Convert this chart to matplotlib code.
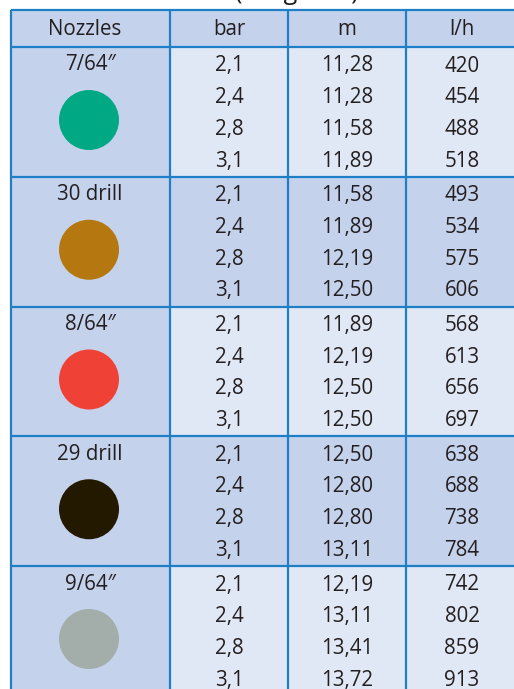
import matplotlib.pyplot as plt
from matplotlib.patches import Rectangle, Circle

plt.rcParams['font.family'] = ['Open Sans', 'DejaVu Sans']

# table data
headers = ['Nozzles', 'bar', 'm', 'l/h']
nozzles = ['7/64″', '30 drill', '8/64″', '29 drill', '9/64″']
nozzle_colors = ['#00a884', '#b5770f', '#ef4136', '#231800', '#a3aeaa']
pressure = [2.1, 2.4, 2.8, 3.1]
throw = [[11.28, 11.28, 11.58, 11.89],
         [11.58, 11.89, 12.19, 12.50],
         [11.89, 12.19, 12.50, 12.50],
         [12.50, 12.80, 12.80, 13.11],
         [12.19, 13.11, 13.41, 13.72]]
flow = [[420, 454, 488, 518],
        [493, 534, 575, 606],
        [568, 613, 656, 697],
        [638, 688, 738, 784],
        [742, 802, 859, 913]]

dark = '#c5d2ec'
light = '#e1e8f5'
blue = '#1e7ec6'
txt = '#231f20'

# layout in pixel units
col_x = [11, 170, 288, 406, 518]
head_top, head_bot = 10, 47
group_h = 129.75
row_h = 31.7
fs = 14.8

fig = plt.figure(figsize=(5.14, 6.89), dpi=100)
ax = fig.add_axes([0, 0, 1, 1])
ax.set_xlim(0, 514)
ax.set_ylim(689, 0)
ax.axis('off')


def fmt(v, nd):
    return f'{v:.{nd}f}'.replace('.', ',')


# header
for c, h in enumerate(headers):
    x0, x1 = col_x[c], col_x[c + 1]
    ax.add_patch(Rectangle((x0, head_top), x1 - x0, head_bot - head_top,
                           facecolor=dark, edgecolor='none'))
    cx = (x0 + x1) / 2 - (6 if c == 0 else 0)
    ax.text(cx, (head_top + head_bot) / 2 + 1, h, ha='center', va='center',
            fontsize=fs, color=txt)

# groups
for g, name in enumerate(nozzles):
    top = head_bot + g * group_h
    data_bg = light if g % 2 == 0 else dark
    ax.add_patch(Rectangle((col_x[0], top), col_x[1] - col_x[0], group_h,
                           facecolor=dark, edgecolor='none'))
    ax.add_patch(Rectangle((col_x[1], top), col_x[4] - col_x[1], group_h,
                           facecolor=data_bg, edgecolor='none'))
    ax.text(90, top + 18, name, ha='center', va='center', fontsize=fs, color=txt)
    ax.add_patch(Circle((89, top + 73), 30, facecolor=nozzle_colors[g],
                        edgecolor='none'))
    for r in range(4):
        cy = top + 19 + r * row_h
        vals = [fmt(pressure[r], 1), fmt(throw[g][r], 2), str(flow[g][r])]
        for c, v in enumerate(vals, start=1):
            ax.text((col_x[c] + col_x[c + 1]) / 2, cy, v, ha='center',
                    va='center', fontsize=fs, color=txt)

# grid lines
bottom = head_bot + len(nozzles) * group_h
for x in col_x[:4]:
    ax.plot([x, x], [head_top, bottom], color=blue, lw=1.6,
            solid_capstyle='butt')
for k in range(len(nozzles) + 1):
    y = head_bot + k * group_h
    ax.plot([col_x[0], 520], [y, y], color=blue, lw=1.6, solid_capstyle='butt')
ax.plot([col_x[0], 520], [head_top, head_top], color=blue, lw=1.6,
        solid_capstyle='butt')

# title, mostly cut off above the figure as in the source
ax.text(297, -1, '(in kg/min)', ha='center', va='baseline', fontsize=18,
        color=txt, clip_on=False)

fig.savefig('out.png', dpi=100)
